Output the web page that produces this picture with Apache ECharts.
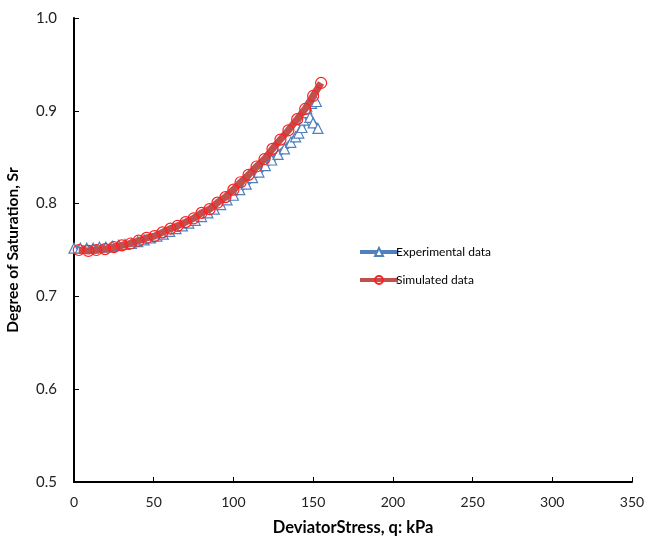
<!DOCTYPE html>
<html>
<head>
<meta charset="utf-8">
<script src="https://cdn.jsdelivr.net/npm/echarts@6/dist/echarts.min.js"></script>
<style>
  html, body { margin: 0; padding: 0; background: #fff; }
  #chart { width: 646px; height: 538px; }
</style>
</head>
<body>
<div id="chart"></div>
<script>
// experimental data (q kPa, Sr)
var expQ = [0, 4, 8, 12, 16, 20, 24, 28, 32, 36, 40, 44, 48, 52, 56, 60, 64, 68, 72, 76,
  80, 84, 88, 92, 96, 100, 104, 108, 112, 116, 120, 124, 128, 132, 136, 139, 141, 143,
  144, 145, 146, 149, 152, 146, 148, 150, 153];
var expSr = [0.752, 0.752, 0.752, 0.752, 0.753, 0.753, 0.754, 0.755, 0.756, 0.757, 0.759,
  0.761, 0.763, 0.765, 0.767, 0.770, 0.773, 0.776, 0.779, 0.782, 0.786, 0.790, 0.794,
  0.799, 0.804, 0.809, 0.815, 0.821, 0.828, 0.834, 0.841, 0.847, 0.853, 0.859, 0.866,
  0.872, 0.876, 0.882, 0.890, 0.898, 0.905, 0.908, 0.910, 0.902, 0.893, 0.887, 0.881];

// simulated data
var simQ = [3, 9, 14, 19.5, 25, 30, 35.5, 40.5, 45.5, 50.5, 55.5, 60.5, 65, 70, 75, 80,
  85, 90, 95, 100, 104.5, 109.5, 114.5, 119.5, 124.5, 129.5, 134.5, 140, 145, 150, 155];
var simSr = [0.750, 0.749, 0.750, 0.751, 0.753, 0.755, 0.757, 0.760, 0.763, 0.765, 0.769,
  0.773, 0.776, 0.780, 0.784, 0.790, 0.794, 0.801, 0.807, 0.815, 0.823, 0.831, 0.840,
  0.848, 0.859, 0.869, 0.879, 0.891, 0.902, 0.916, 0.930];

var xTicks = [0, 50, 100, 150, 200, 250, 300, 350];
var yTicks = [0.5, 0.6, 0.7, 0.8, 0.9, 1.0];

function pairs(xs, ys) {
  return xs.map(function (x, i) { return [x, ys[i]]; });
}

var chart = echarts.init(document.getElementById('chart'));
chart.setOption({
  animation: false,
  textStyle: { fontFamily: 'Lato' },
  grid: { left: 74, right: 14, top: 18, bottom: 56, outerBoundsMode: 'none' },
  legend: {
    orient: 'vertical',
    left: 353,
    top: 241,
    itemGap: 16,
    itemWidth: 38,
    itemHeight: 10,
    lineStyle: { width: 4 },
    textStyle: { fontFamily: 'Lato', fontSize: 12, color: '#000', padding: [0, 0, 0, -7] },
    data: ['Experimental data', 'Simulated data']
  },
  xAxis: {
    type: 'value',
    min: xTicks[0],
    max: xTicks[xTicks.length - 1],
    interval: 50,
    name: 'DeviatorStress, q: kPa',
    nameLocation: 'middle',
    nameGap: 37,
    nameTextStyle: { fontFamily: 'Lato', fontSize: 16.5, fontWeight: 'bold', color: '#000' },
    axisLine: { lineStyle: { color: '#000', width: 2 } },
    axisTick: { inside: true, length: 5, lineStyle: { color: '#000', width: 1 } },
    axisLabel: { fontSize: 14, color: '#222', margin: 13 },
    splitLine: { show: false }
  },
  yAxis: {
    type: 'value',
    min: yTicks[0],
    max: yTicks[yTicks.length - 1],
    interval: 0.1,
    name: 'Degree of Saturation, Sr',
    nameLocation: 'middle',
    nameGap: 53,
    nameTextStyle: { fontFamily: 'Lato', fontSize: 15.5, fontWeight: 'bold', color: '#000' },
    axisLine: { show: true, lineStyle: { color: '#000', width: 2 } },
    axisTick: { show: true, inside: true, length: 5, lineStyle: { color: '#000', width: 1 } },
    axisLabel: {
      fontSize: 15, color: '#222', margin: 17,
      formatter: function (v) { return v.toFixed(1); }
    },
    splitLine: { show: false }
  },
  series: [
    {
      name: 'Experimental data',
      type: 'line',
      data: pairs(expQ, expSr),
      symbol: 'triangle',
      symbolSize: 10,
      showAllSymbol: true,
      lineStyle: { color: '#4F81BD', width: 6 },
      itemStyle: { color: '#fff', borderColor: '#4F81BD', borderWidth: 1.2 },
      z: 2
    },
    {
      name: 'Simulated data',
      type: 'line',
      data: pairs(simQ, simSr),
      symbol: 'circle',
      symbolSize: 11,
      showAllSymbol: true,
      lineStyle: { color: '#C0504D', width: 7 },
      itemStyle: { color: 'rgba(255,255,255,0)', borderColor: '#FF2020', borderWidth: 1.2 },
      z: 3
    }
  ]
});
</script>
</body>
</html>
